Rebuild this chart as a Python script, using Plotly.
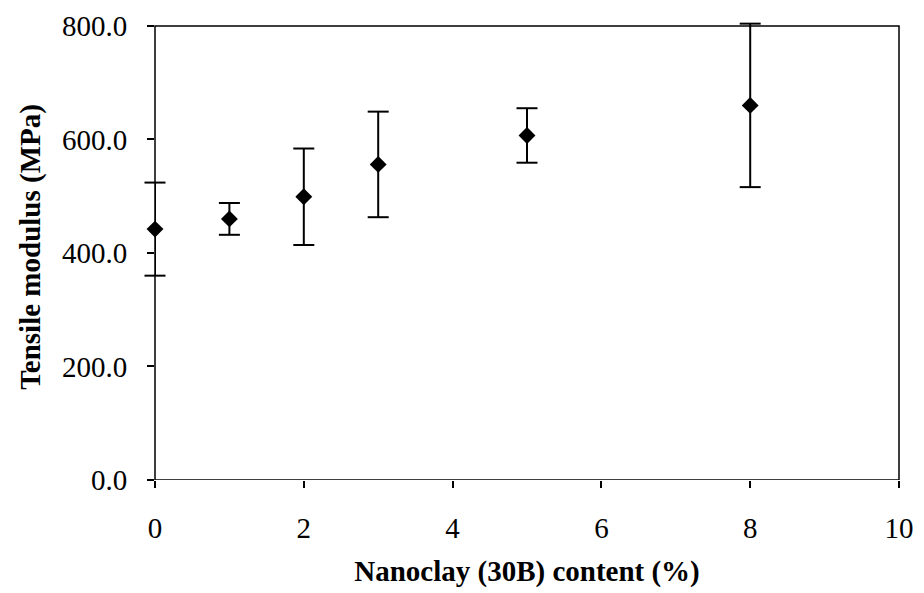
import plotly.graph_objects as go

# Nanoclay loading (%) and measured tensile modulus (MPa) with standard deviation
clay_content = [0, 1, 2, 3, 5, 8]
modulus = [442, 460, 499, 556, 607, 660]
modulus_sd = [82, 28, 85, 93, 48, 144]

x_ticks = [0, 2, 4, 6, 8, 10]
y_ticks = [0, 200, 400, 600, 800]

x_max = 10
y_max = 800
# Headroom above the frame so an error cap reaching past 800 is still drawn
y_headroom = 21

serif = "Liberation Serif, Times New Roman, serif"

upper = [m + s for m, s in zip(modulus, modulus_sd)]
lower = [m - s for m, s in zip(modulus, modulus_sd)]

fig = go.Figure()

# Error-bar stems and mean markers
fig.add_trace(
    go.Scatter(
        x=clay_content,
        y=modulus,
        mode="markers",
        marker=dict(symbol="diamond", size=13, color="black"),
        error_y=dict(
            type="data",
            array=modulus_sd,
            visible=True,
            color="black",
            thickness=2,
            width=0,
        ),
        cliponaxis=False,
        showlegend=False,
    )
)

# End caps, drawn as markers so they stay visible on the frame edges
fig.add_trace(
    go.Scatter(
        x=clay_content + clay_content,
        y=upper + lower,
        mode="markers",
        marker=dict(
            symbol="line-ew-open",
            size=15,
            color="black",
            line=dict(color="black", width=2),
        ),
        cliponaxis=False,
        showlegend=False,
        hoverinfo="skip",
    )
)

# Plot frame from 0 to 800 MPa
fig.add_shape(
    type="rect",
    xref="paper",
    yref="y",
    x0=0,
    x1=1,
    y0=0,
    y1=y_max,
    line=dict(color="black", width=1.5),
    fillcolor="rgba(0,0,0,0)",
    layer="above",
)

fig.update_layout(
    width=924,
    height=593,
    margin=dict(l=155, r=18, t=10, b=113),
    paper_bgcolor="white",
    plot_bgcolor="white",
    font=dict(family=serif, color="black"),
)

fig.update_xaxes(
    range=[0, x_max],
    tickvals=x_ticks,
    ticktext=[str(v) for v in x_ticks],
    ticks="outside",
    ticklen=7,
    tickwidth=1.5,
    tickcolor="black",
    ticklabelstandoff=15,
    tickfont=dict(size=29, family=serif),
    showline=False,
    showgrid=False,
    zeroline=False,
    title=dict(
        text="<b>Nanoclay (30B) content (%)</b>",
        font=dict(size=29, family=serif),
        standoff=17,
    ),
)

fig.update_yaxes(
    range=[0, y_max + y_headroom],
    tickvals=y_ticks,
    ticktext=[f"{v:.1f}" for v in y_ticks],
    ticks="outside",
    ticklen=7,
    tickwidth=1.5,
    tickcolor="black",
    ticklabelstandoff=14,
    tickfont=dict(size=29, family=serif),
    showline=False,
    showgrid=False,
    zeroline=False,
    title=dict(
        text="<b>Tensile modulus (MPa)</b>",
        font=dict(size=29, family=serif),
        standoff=12,
    ),
)

fig.write_html("out.html")
